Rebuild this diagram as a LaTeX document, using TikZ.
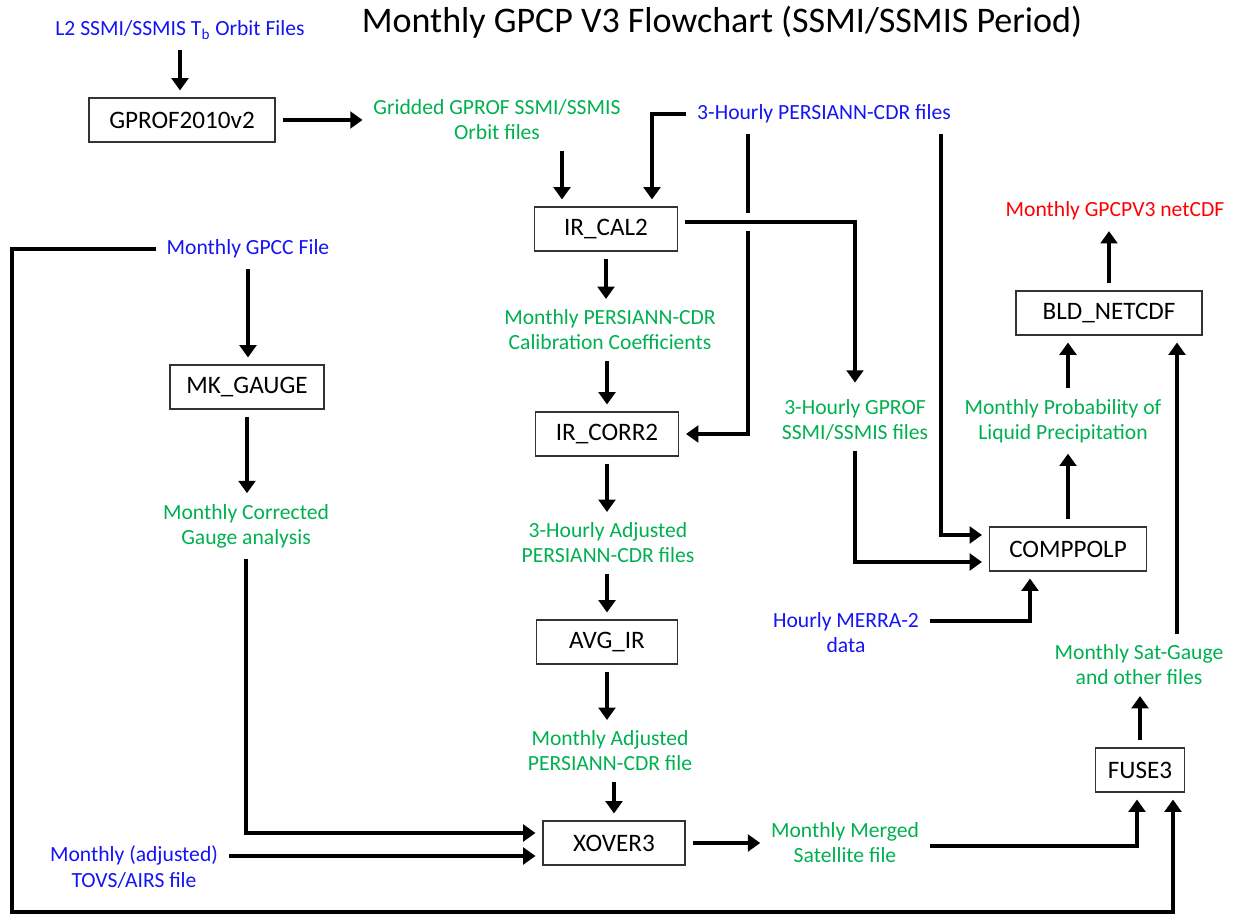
\documentclass[tikz,border=0pt]{standalone}
\usepackage{fontspec}
\setmainfont{Carlito}
\usetikzlibrary{arrows.meta,calc}
\definecolor{inblue}{RGB}{20,20,245}
\definecolor{outgreen}{RGB}{0,176,80}
\definecolor{finalred}{RGB}{255,0,0}
\tikzset{
  box/.style={draw=black!80, line width=0.6pt, minimum height=0.88cm,
    inner sep=2pt, font=\fontsize{14.3}{16}\selectfont},
  lbl/.style={align=center, inner sep=2pt, font=\fontsize{12.3}{14.3}\selectfont},
  inp/.style={lbl, text=inblue},
  mid/.style={lbl, text=outgreen},
  arr/.style={-{Triangle[width=9.5pt,length=7pt]}, line width=1.8pt,
    shorten >=4pt, shorten <=4pt},
}
\begin{document}
\begin{tikzpicture}[x=0.02cm, y=-0.02cm]
  \useasboundingbox (0,0) rectangle (1249,915);

  % === Title ===
  \node[font=\fontsize{20.5}{24}\selectfont] (title) at (722,22)
    {Monthly GPCP V3 Flowchart (SSMI/SSMIS Period)};

  % === Programs (boxes) ===
  \node[box, minimum width=3.72cm] (gprof) at (182,120) {GPROF2010v2};
  \node[box, minimum width=2.86cm] (ircal) at (606,229) {IR\_CAL2};
  \node[box, minimum width=3.08cm] (mkg) at (247,387) {MK\_GAUGE};
  \node[box, minimum width=2.86cm] (ircorr) at (607,434) {IR\_CORR2};
  \node[box, minimum width=2.82cm] (avgir) at (607,642) {AVG\_IR};
  \node[box, minimum width=2.84cm] (xover) at (614,843) {XOVER3};
  \node[box, minimum width=3.14cm] (comp) at (1068,549) {COMPPOLP};
  \node[box, minimum width=3.72cm] (bld) at (1109,313) {BLD\_NETCDF};
  \node[box, minimum width=1.78cm] (fuse) at (1140,770) {FUSE3};

  % === Input files (blue) ===
  \node[inp] (l2) at (180,30) {L2 SSMI/SSMIS T\textsubscript{b} Orbit Files};
  \node[inp] (pers) at (824,114) {3-Hourly PERSIANN-CDR files};
  \node[inp] (gpcc) at (248,249) {Monthly GPCC File};
  \node[inp] (merra) at (846,633) {Hourly MERRA-2\\data};
  \node[inp] (tovs) at (134,867) {Monthly (adjusted)\\TOVS/AIRS file};

  % === Intermediate files (green) ===
  \node[mid] (grid) at (497,120) {Gridded GPROF SSMI/SSMIS\\Orbit files};
  \node[mid] (calco) at (610,330) {Monthly PERSIANN-CDR\\Calibration Coefficients};
  \node[mid] (gp3h) at (855,420) {3-Hourly GPROF\\SSMI/SSMIS files};
  \node[mid] (prob) at (1063,421) {Monthly Probability of\\Liquid Precipitation};
  \node[mid] (corr) at (246,526) {Monthly Corrected\\Gauge analysis};
  \node[mid] (adj3h) at (608,543) {3-Hourly Adjusted\\PERSIANN-CDR files};
  \node[mid] (sat) at (1139,665) {Monthly Sat-Gauge\\and other files};
  \node[mid] (madj) at (610,751) {Monthly Adjusted\\PERSIANN-CDR file};
  \node[mid] (merged) at (845,843) {Monthly Merged\\Satellite file};

  % === Final product (red) ===
  \node[lbl, text=finalred] (gout) at (1115,211) {Monthly GPCPV3 netCDF};

  % === Connector ends ===
  \coordinate (calA) at ($(ircal.north)+(-44,0)$);
  \coordinate (calB) at ($(ircal.north)+(46,0)$);
  \coordinate (pA) at ($(pers.south)+(-76,0)$);
  \coordinate (pB) at ($(pers.south)+(117,0)$);
  \coordinate (compA) at ($(comp.west)+(0,-14)$);
  \coordinate (compB) at ($(comp.west)+(0,13)$);
  \coordinate (compC) at ($(comp.south)+(-38,0)$);
  \coordinate (bldA) at ($(bld.south)+(-41,0)$);
  \coordinate (bldB) at ($(bld.south)+(68,0)$);
  \coordinate (fuseA) at ($(fuse.south)+(-3,0)$);
  \coordinate (fuseB) at ($(fuse.south)+(33,0)$);
  \coordinate (xA) at ($(xover.west)+(0,-10)$);
  \coordinate (xB) at ($(xover.west)+(0,13)$);
  \coordinate (loop) at (12,912);

  % === GPROF branch ===
  \draw[arr] (l2.south) -- (l2.south |- gprof.north);
  \draw[arr] (gprof.east) -- (gprof.east -| grid.west);
  \draw[arr] (grid.south -| calA) -- (calA);
  \draw[arr] (pers.west) -| (calB);

  % === PERSIANN lines (IR_CAL2 line crosses with a gap) ===
  \draw[arr] (pA) |- (ircorr.east);
  \draw[arr] (pB) |- (compA);
  \draw[arr, preaction={draw=white, line width=10pt, -}]
    ($(ircal.east)+(0,-7)$) -| ($(gp3h.north)+(0,-6)$);

  % === Central column ===
  \draw[arr] (ircal.south) -- (ircal.south |- calco.north);
  \draw[arr] (calco.south -| ircorr.north) -- (ircorr.north);
  \draw[arr] (ircorr.south) -- (ircorr.south |- adj3h.north);
  \draw[arr] (adj3h.south -| avgir.north) -- (avgir.north);
  \draw[arr] (avgir.south) -- (avgir.south |- madj.north);
  \draw[arr] (madj.south -| xover.north) -- (xover.north);

  % === Gauge column ===
  \draw[arr] (gpcc.south) -- (gpcc.south |- mkg.north);
  \draw[arr] (mkg.south) -- (mkg.south |- corr.north);
  \draw[arr] (corr.south) |- (xA);
  \draw[arr] (tovs.east |- xB) -- (xB);

  % === Merge and fuse ===
  \draw[arr] (xover.east) -- (xover.east -| merged.west);
  \draw[arr] ($(merged.east)+(0,3)$) -| (fuseA);
  \draw[arr] (gpcc.west) -| (loop) -| (fuseB);
  \draw[arr] (fuse.north) -- (fuse.north |- sat.south);

  % === Precipitation phase and output ===
  \draw[arr] (gp3h.south) |- (compB);
  \draw[arr] ($(merra.east)+(0,-12)$) -| (compC);
  \draw[arr] (comp.north) -- (comp.north |- prob.south);
  \draw[arr] (prob.north -| bldA) -- (bldA);
  \draw[arr] (sat.north -| bldB) -- (bldB);
  \draw[arr] (bld.north) -- (bld.north |- gout.south);

\end{tikzpicture}
\end{document}
